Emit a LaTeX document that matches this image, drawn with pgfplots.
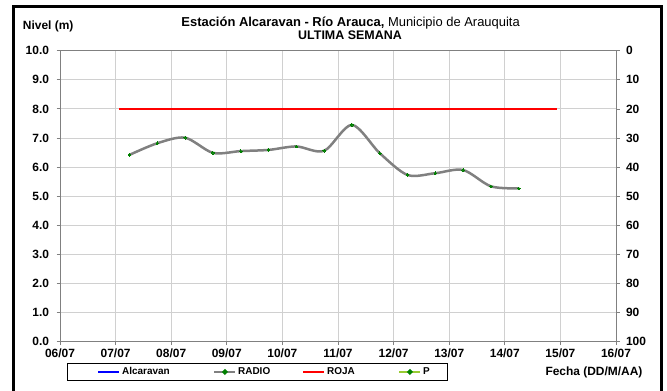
\documentclass[border=0pt]{standalone}
\usepackage{pgfplots}
\pgfplotsset{compat=1.18}
\usepackage{fontspec}
\setmainfont{Liberation Sans}

\definecolor{gridgray}{HTML}{D0D0D0}
\definecolor{axgray}{HTML}{808080}
\definecolor{radiogray}{HTML}{808080}
\definecolor{dotgreen}{HTML}{008000}
\definecolor{pgreen}{HTML}{99CC33}

\newcommand{\tickfont}{\bfseries\fontsize{12}{12}\selectfont}

\begin{document}
\begin{tikzpicture}[x=1bp,y=1bp]
\useasboundingbox (0,0) rectangle (667,390);

% outer frame
\draw[black, line width=2.5bp] (13.3,-10) -- (13.3,383.3) -- (661.7,383.3) -- (661.7,-10);

% titles
\node[anchor=base west, inner sep=0pt, font=\bfseries\fontsize{12}{12}\selectfont] at (22.7,361) {Nivel (m)};
\node[anchor=base, inner sep=0pt, font=\fontsize{13}{13}\selectfont] at (350.6,363.3)
  {\textbf{Estación Alcaravan - Río Arauca,} Municipio de Arauquita};
\node[anchor=base, inner sep=0pt, font=\bfseries\fontsize{12.5}{13}\selectfont] at (350,350.7) {ULTIMA SEMANA};
\node[anchor=base, inner sep=0pt, font=\bfseries\fontsize{12}{12}\selectfont] at (594,14.3) {Fecha (DD/M/AA)};

% right axis (reversed 0-100)
\begin{axis}[
    at={(60bp,48.3bp)}, anchor=south west,
    scale only axis, width=556bp, height=291bp,
    xmin=6, xmax=16, ymin=0, ymax=100,
    y dir=reverse,
    axis x line=none,
    axis y line*=right,
    axis line style={draw=axgray, line width=1bp, -},
    ytick={0,10,...,100},
    tick align=outside,
    major tick length=3.5bp,
    tick style={draw=axgray, line width=0.8bp},
    yticklabel style={font=\tickfont, xshift=3bp},
    /pgf/number format/assume math mode=true,
]
\addplot[draw=none] coordinates {(6,0)};
\end{axis}

% main axis
\begin{axis}[
    at={(60bp,48.3bp)}, anchor=south west,
    scale only axis, width=556bp, height=291bp,
    xmin=6, xmax=16, ymin=0, ymax=10,
    xtick={6,...,16},
    xticklabels={06/07,07/07,08/07,09/07,10/07,11/07,12/07,13/07,14/07,15/07,16/07},
    ytick={0,...,10},
    xtick pos=bottom, ytick pos=left,
    tick align=outside,
    major tick length=3.5bp,
    tick style={draw=axgray, line width=0.8bp},
    grid=major,
    grid style={draw=gridgray, line width=0.8bp},
    axis line style={draw=axgray, line width=1bp},
    ticklabel style={font=\tickfont},
    yticklabel style={xshift=-4bp, /pgf/number format/.cd, fixed, fixed zerofill, precision=1},
    /pgf/number format/assume math mode=true,
    legend columns=4,
    legend style={at={(0.01205,-0.07216)}, anchor=north west,
        draw=black, line width=0.8bp, inner xsep=0pt, inner ysep=4.5bp,
        font=\bfseries\fontsize{10}{12}\selectfont,
        nodes={inner sep=0pt},
        /tikz/every even column/.append style={column sep=0pt},
        /tikz/every odd column/.append style={column sep=0pt}},
]
\addlegendimage{blue, line width=2.5bp, no markers, legend image code/.code={
    \path[draw=none] (-31.3bp,0) -- (0,0);
    \draw[blue, line width=2.5bp] (0,0) -- (21bp,0);}}
\addlegendentry{\makebox[92.5bp][l]{\hspace{1.5bp}Alcaravan}}

\addplot[radiogray, line width=2.5bp, smooth, tension=0.5,
    mark=*, mark size=1.3bp, mark options={draw=dotgreen, fill=dotgreen, line width=0pt},
    legend image code/.code={
    \draw[radiogray, line width=2.5bp] (0,0) -- (21bp,0);
    \fill[dotgreen] (10.5bp,0) circle (1.3bp);}]
coordinates {
(7.25,6.42) (7.75,6.82) (8.25,7.01) (8.75,6.49) (9.25,6.55)
(9.75,6.59) (10.25,6.71) (10.75,6.56) (11.25,7.45) (11.75,6.48)
(12.25,5.73) (12.75,5.79) (13.25,5.90) (13.75,5.34) (14.25,5.27)
};
\addlegendentry{\makebox[65.5bp][l]{\hspace{1.5bp}RADIO}}

\addplot[red, line width=2bp,
    legend image code/.code={\draw[red, line width=2.5bp] (0,0) -- (21bp,0);}]
coordinates {(7.07,8) (14.93,8)};
\addlegendentry{\makebox[72.5bp][l]{\hspace{1.5bp}ROJA}}

\addlegendimage{pgreen, line width=2.5bp, no markers, legend image code/.code={
    \draw[pgreen, line width=2.5bp] (0,0) -- (21bp,0);
    \fill[dotgreen] (10.5bp,0) circle (1.3bp);}}
\addlegendentry{\makebox[25.5bp][l]{\hspace{1.5bp}P}}
\end{axis}
\end{tikzpicture}
\end{document}
